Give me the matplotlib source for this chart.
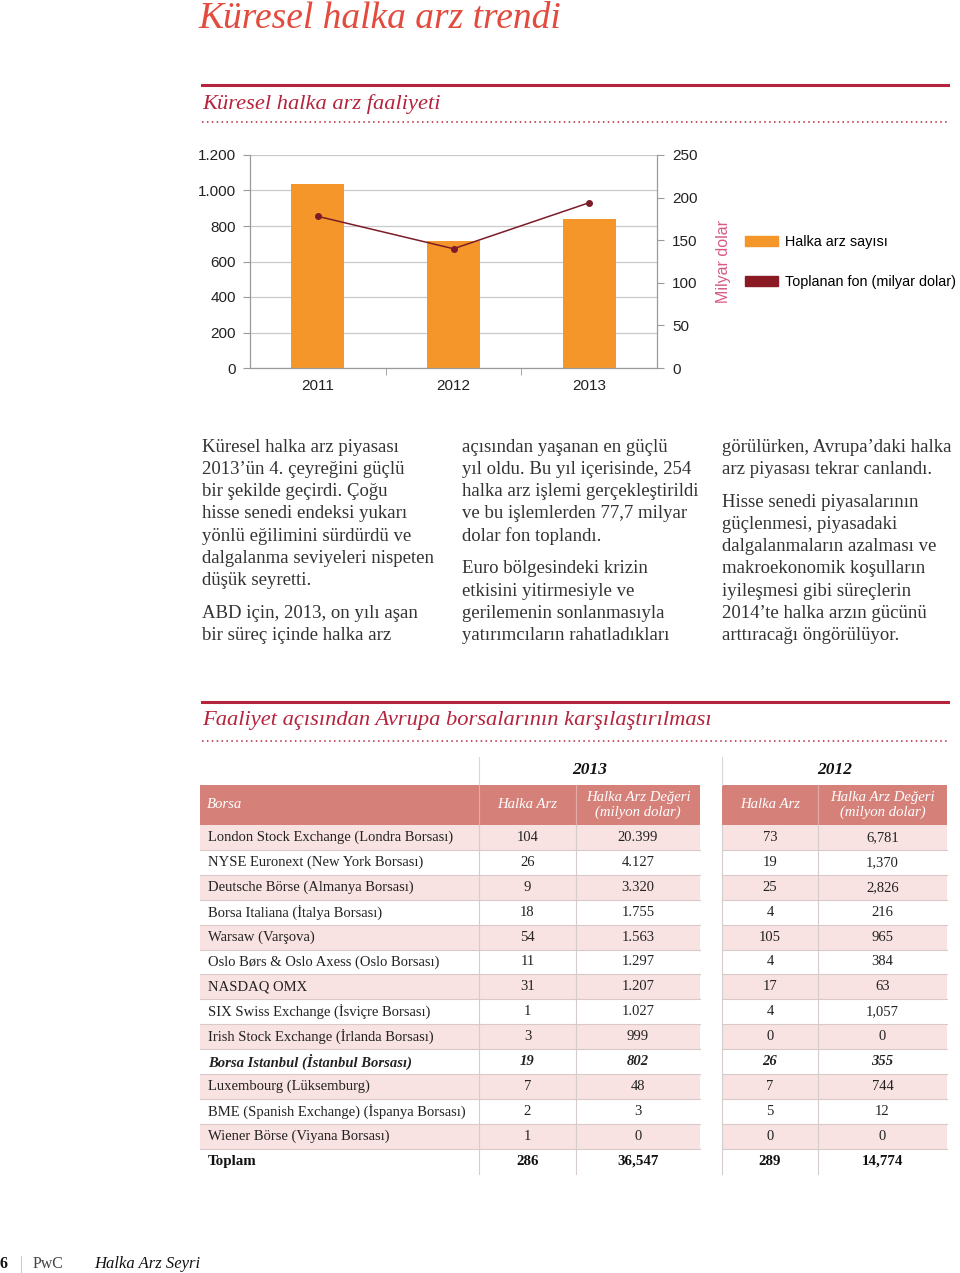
import matplotlib.pyplot as plt
import matplotlib.patches as mpatches
import numpy as np

W, H = 960, 1273

# ── Data ──────────────────────────────────────────────────────────────────────
YEARS      = ['2011', '2012', '2013']
IPO_COUNT  = [1035, 715, 840]          # Halka arz sayısı
FUNDS_BN   = [178, 140, 194]           # Toplanan fon (milyar dolar)
LEFT_TICKS  = [0, 200, 400, 600, 800, 1000, 1200]
LEFT_LABELS = ['0', '200', '400', '600', '800', '1.000', '1.200']
RIGHT_TICKS = [0, 50, 100, 150, 200, 250]

EXCHANGES = ['London Stock Exchange (Londra Borsası)',
             'NYSE Euronext (New York Borsası)',
             'Deutsche Börse (Almanya Borsası)',
             'Borsa Italiana (İtalya Borsası)',
             'Warsaw (Varşova)',
             'Oslo Børs & Oslo Axess (Oslo Borsası)',
             'NASDAQ OMX',
             'SIX Swiss Exchange (İsviçre Borsası)',
             'Irish Stock Exchange (İrlanda Borsası)',
             'Borsa Istanbul (İstanbul Borsası)',
             'Luxembourg (Lüksemburg)',
             'BME (Spanish Exchange) (İspanya Borsası)',
             'Wiener Börse (Viyana Borsası)']
IPO_2013 = ['104', '26', '9', '18', '54', '11', '31', '1', '3', '19', '7', '2', '1']
VAL_2013 = ['20.399', '4.127', '3.320', '1.755', '1.563', '1.297', '1.207',
            '1.027', '999', '802', '48', '3', '0']
IPO_2012 = ['73', '19', '25', '4', '105', '4', '17', '4', '0', '26', '7', '5', '0']
VAL_2012 = ['6,781', '1,370', '2,826', '216', '965', '384', '63', '1,057',
            '0', '355', '744', '12', '0']
TOTAL_LABEL = 'Toplam'
TOTALS      = ['286', '36,547', '289', '14,774']
HIGHLIGHT   = 'Borsa Istanbul (İstanbul Borsası)'

COL1 = ['Küresel halka arz piyasası', '2013’ün 4. çeyreğini güçlü',
        'bir şekilde geçirdi. Çoğu', 'hisse senedi endeksi yukarı',
        'yönlü eğilimini sürdürdü ve', 'dalgalanma seviyeleri nispeten',
        'düşük seyretti.', None,
        'ABD için, 2013, on yılı aşan', 'bir süreç içinde halka arz']
COL2 = ['açısından yaşanan en güçlü', 'yıl oldu. Bu yıl içerisinde, 254',
        'halka arz işlemi gerçekleştirildi', 've bu işlemlerden 77,7 milyar',
        'dolar fon toplandı.', None,
        'Euro bölgesindeki krizin', 'etkisini yitirmesiyle ve',
        'gerilemenin sonlanmasıyla', 'yatırımcıların rahatladıkları']
COL3 = ['görülürken, Avrupa’daki halka', 'arz piyasası tekrar canlandı.', None,
        'Hisse senedi piyasalarının', 'güçlenmesi, piyasadaki',
        'dalgalanmaların azalması ve', 'makroekonomik koşulların',
        'iyileşmesi gibi süreçlerin', '2014’te halka arzın gücünü',
        'arttıracağı öngörülüyor.']

# ── Styles ────────────────────────────────────────────────────────────────────
SERIF   = ['Liberation Serif', 'DejaVu Serif']
SANS    = ['Liberation Sans Narrow', 'Liberation Sans', 'DejaVu Sans']
RED     = '#e24b3d'
DKRED   = '#b5243d'
ORANGE  = '#f5962a'
LINE_C  = '#7d1c28'
PINK    = '#f9e3e2'
SALMON  = '#d5817a'
GRID_C  = '#c9c9c9'
TEXT_C  = '#333333'

fig = plt.figure(figsize=(W / 100, H / 100), dpi=100)
page = fig.add_axes([0, 0, 1, 1])
page.set_xlim(0, W)
page.set_ylim(H, 0)
page.axis('off')


def section_header(y_line, y_text, y_dots, text):
    page.plot([202, 948], [y_line, y_line], color=DKRED, lw=2.2)
    page.text(202, y_text, text, family=SERIF, style='italic', fontsize=16.2,
              color=DKRED, va='center', ha='left')
    page.plot([202, 948], [y_dots, y_dots], color=DKRED, lw=1.1,
              linestyle=(0, (1, 2.2)))


page.text(198, 28, 'Küresel halka arz trendi', family=SERIF, style='italic',
          fontsize=27, color=RED, va='baseline', ha='left')
section_header(85, 104, 122, 'Küresel halka arz faaliyeti')
section_header(702, 721, 741, 'Faaliyet açısından Avrupa borsalarının karşılaştırılması')

# ── Chart ─────────────────────────────────────────────────────────────────────
x0, x1, y0, y1 = 250, 657, 155, 368
ax = fig.add_axes([x0 / W, 1 - y1 / H, (x1 - x0) / W, (y1 - y0) / H])
ax.set_facecolor('none')
x = np.arange(len(YEARS))
bars = ax.bar(x, IPO_COUNT, width=0.39, color=ORANGE, zorder=2,
              label='Halka arz sayısı')
ax.set_xlim(-0.5, 2.5)
ax.set_ylim(0, 1200)
ax.set_yticks(LEFT_TICKS)
ax.set_yticklabels(LEFT_LABELS)
ax.set_xticks(x)
ax.set_xticklabels(YEARS)
ax.set_xticks([0.5, 1.5], minor=True)
ax.grid(axis='y', color=GRID_C, lw=0.9, zorder=0)
for s in ['top', 'right']:
    ax.spines[s].set_visible(False)
for s in ['left', 'bottom']:
    ax.spines[s].set_color('#9a9a9a')
    ax.spines[s].set_linewidth(0.9)
ax.tick_params(axis='y', length=5, color='#9a9a9a', pad=5, labelsize=11,
               labelcolor='#222222')
ax.tick_params(axis='x', which='major', length=0, pad=8, labelsize=11,
               labelcolor='#222222')
ax.tick_params(axis='x', which='minor', length=5, color='#9a9a9a')
for lab in ax.get_xticklabels() + ax.get_yticklabels():
    lab.set_family(SANS)

ax2 = ax.twinx()
ax2.plot(x, FUNDS_BN, color=LINE_C, lw=1.1, marker='o', ms=4, zorder=3)
ax2.set_ylim(0, 250)
ax2.set_yticks(RIGHT_TICKS)
for s in ['top', 'left', 'bottom']:
    ax2.spines[s].set_visible(False)
ax2.spines['right'].set_color('#9a9a9a')
ax2.spines['right'].set_linewidth(0.9)
ax2.tick_params(axis='y', length=5, color='#9a9a9a', pad=6, labelsize=11,
                labelcolor='#222222')
for lab in ax2.get_yticklabels():
    lab.set_family(SANS)
ax2.set_ylabel('Milyar dolar', family=SANS, fontsize=11.5, color='#d65a86')
ax2.yaxis.set_label_coords((716 - x0) / (x1 - x0), 0.5)

handles = [mpatches.Patch(color=ORANGE, label='Halka arz sayısı'),
           mpatches.Patch(color='#8a1a24', label='Toplanan fon (milyar dolar)')]
fig.legend(handles=handles, loc='center left',
           bbox_to_anchor=(745 / W, 1 - 262 / H), frameon=False,
           prop={'family': SANS, 'size': 10.4}, handlelength=2.3,
           handleheight=0.7, handletextpad=0.5, labelspacing=1.85,
           borderpad=0, borderaxespad=0)

# ── Body text ─────────────────────────────────────────────────────────────────
for cx, lines in zip([202, 462, 722], [COL1, COL2, COL3]):
    y = 447
    for ln in lines:
        if ln is None:
            y += 10.5
            continue
        page.text(cx, y, ln, family=SERIF, fontsize=13.5, color=TEXT_C,
                  va='center', ha='left')
        y += 22.3

# ── Table ─────────────────────────────────────────────────────────────────────
NAME_L, C1, C2, C3, C4, RIGHT = 200, 479, 576, 722, 818, 947
GAP_L = 700
ROW0, ROW_H = 825, 24.9
hdr_top, hdr_bot = 785, 825

page.text((C1 + GAP_L) / 2, 770, '2013', family=SERIF, style='italic',
          weight='bold', fontsize=12.5, color='#111111', ha='center', va='center')
page.text((C3 + RIGHT) / 2, 770, '2012', family=SERIF, style='italic',
          weight='bold', fontsize=12.5, color='#111111', ha='center', va='center')
for vx in [C1, C3]:
    page.plot([vx, vx], [757, hdr_top], color='#d8d8d8', lw=0.8)

page.add_patch(mpatches.Rectangle((NAME_L, hdr_top), GAP_L - NAME_L,
                                  hdr_bot - hdr_top, color=SALMON, lw=0))
page.add_patch(mpatches.Rectangle((C3, hdr_top), RIGHT - C3,
                                  hdr_bot - hdr_top, color=SALMON, lw=0))
for vx in [C1, C2, C4]:
    page.plot([vx, vx], [hdr_top, hdr_bot], color='#e4aaa5', lw=0.8)
hy = (hdr_top + hdr_bot) / 2
hkw = dict(family=SERIF, style='italic', fontsize=10.6, color='white', va='center')
page.text(207, hy, 'Borsa', ha='left', **hkw)
page.text((C1 + C2) / 2, hy, 'Halka Arz', ha='center', **hkw)
page.text((C2 + GAP_L) / 2, hy, 'Halka Arz Değeri\n(milyon dolar)', ha='center',
          linespacing=1.1, **hkw)
page.text((C3 + C4) / 2, hy, 'Halka Arz', ha='center', **hkw)
page.text((C4 + RIGHT) / 2, hy, 'Halka Arz Değeri\n(milyon dolar)', ha='center',
          linespacing=1.1, **hkw)

centers = [(C1 + C2) / 2, (C2 + GAP_L) / 2, (C3 + C4) / 2, (C4 + RIGHT) / 2]
for i, name in enumerate(EXCHANGES):
    top = ROW0 + i * ROW_H
    if i % 2 == 0:
        page.add_patch(mpatches.Rectangle((NAME_L, top), GAP_L - NAME_L, ROW_H,
                                          color=PINK, lw=0))
        page.add_patch(mpatches.Rectangle((C3, top), RIGHT - C3, ROW_H,
                                          color=PINK, lw=0))
    bold = name == HIGHLIGHT
    kw = dict(family=SERIF, fontsize=10.5, color='#222222', va='center',
              style='italic' if bold else 'normal',
              weight='bold' if bold else 'normal')
    cy = top + ROW_H / 2
    page.text(208, cy, name, ha='left', **kw)
    for cxx, val in zip(centers, [IPO_2013[i], VAL_2013[i], IPO_2012[i], VAL_2012[i]]):
        page.text(cxx, cy, val, ha='center', **kw)
    yb = top + ROW_H
    page.plot([NAME_L, GAP_L], [yb, yb], color='#d9c9c9', lw=0.8)
    page.plot([C3, RIGHT], [yb, yb], color='#d9c9c9', lw=0.8)

tot_top = ROW0 + len(EXCHANGES) * ROW_H
tot_bot = tot_top + ROW_H
cy = tot_top + ROW_H / 2
tkw = dict(family=SERIF, fontsize=10.8, weight='bold', color='#111111', va='center')
page.text(208, cy, TOTAL_LABEL, ha='left', **tkw)
for cxx, val in zip(centers, TOTALS):
    page.text(cxx, cy, val, ha='center', **tkw)
for vx in [C1, C2, C3, C4]:
    page.plot([vx, vx], [hdr_bot, tot_bot], color='#d5cccc', lw=0.8)

# ── Footer ────────────────────────────────────────────────────────────────────
page.text(0, 1264, '6', family=SERIF, weight='bold', fontsize=11.5,
          color='#111111', va='center', ha='left')
page.plot([21, 21], [1256, 1272], color='#cccccc', lw=0.8)
page.text(33, 1264, 'PwC', family=SERIF, fontsize=11.5, color='#444444',
          va='center', ha='left')
page.text(94, 1264, 'Halka Arz Seyri', family=SERIF, style='italic', fontsize=12,
          color='#111111', va='center', ha='left')

fig.savefig('out.png', dpi=100, facecolor='white')
